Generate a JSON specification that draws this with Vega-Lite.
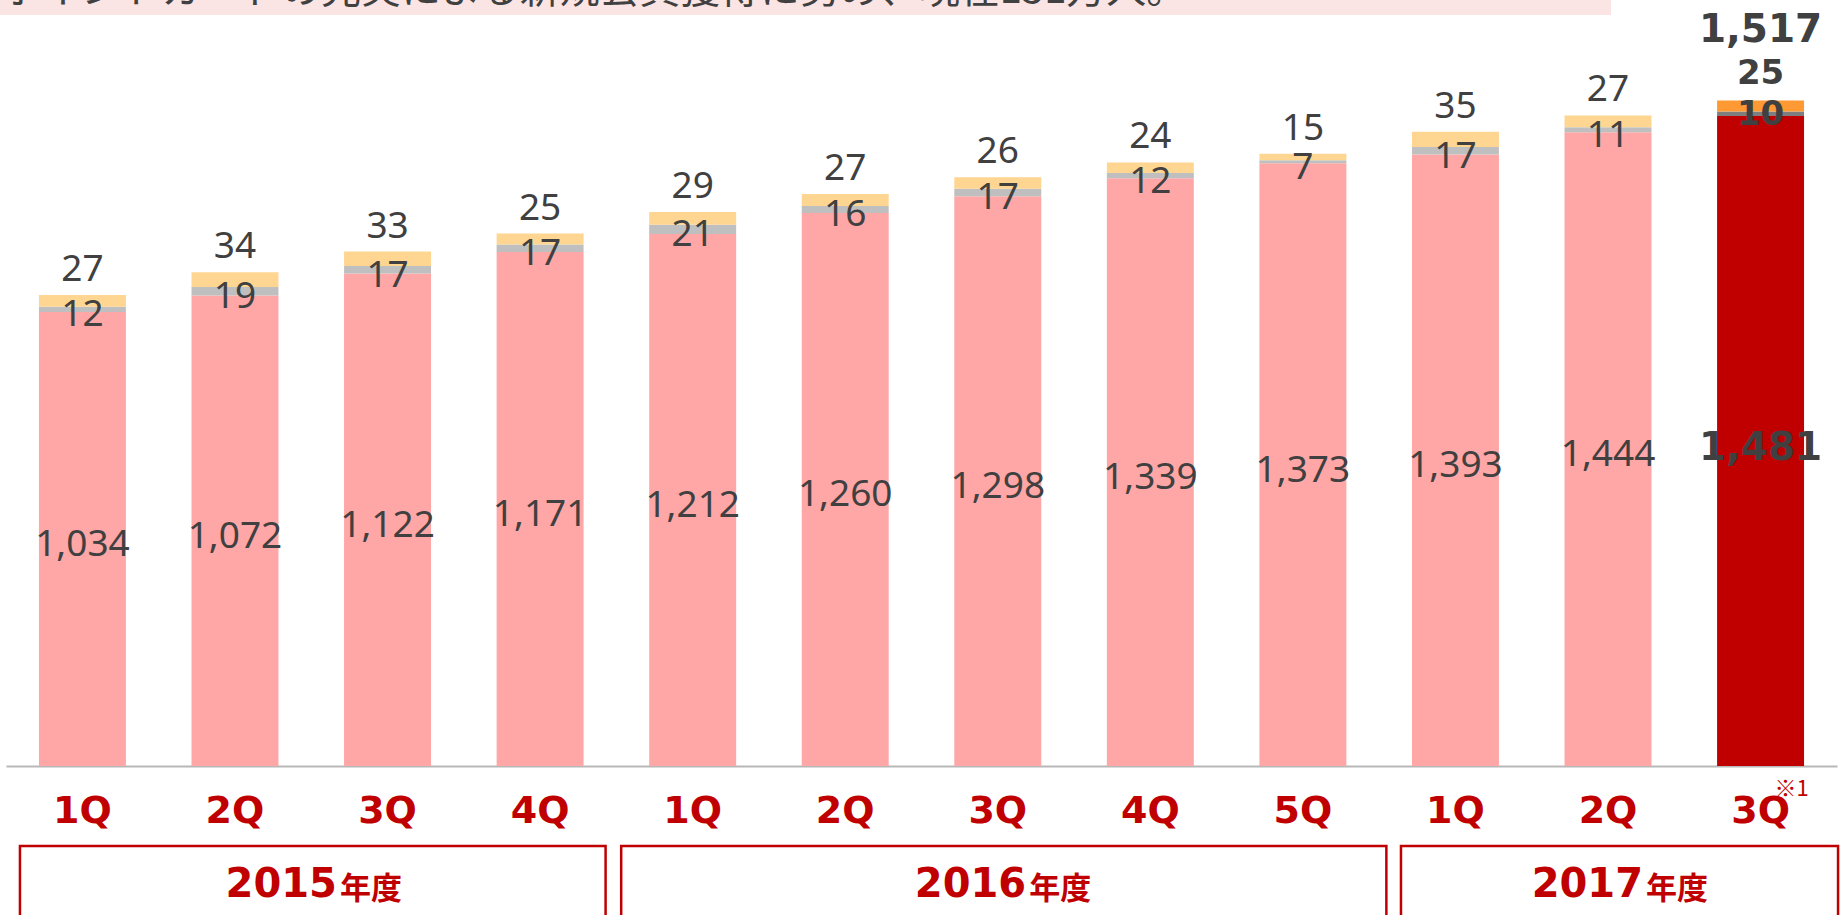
{
  "$schema": "https://vega.github.io/schema/vega-lite/v6.json",
  "width": 1831,
  "height": 766,
  "autosize": {"type": "none"},
  "padding": {"left": 6, "right": 5, "top": 0, "bottom": 149},
  "background": "white",
  "config": {
    "view": {"stroke": null},
    "axisX": {
      "labelExpr": "split(datum.value, '-')[1]",
      "labelFont": "DejaVu Sans", "labelFontWeight": "bold", "labelFontSize": 38, "labelColor": "#c00000",
      "labelAngle": 0, "labelBaseline": "alphabetic", "labelPadding": 56, "labelOverlap": false,
      "ticks": false, "tickSize": 0, "grid": false,
      "domain": true, "domainColor": "#b8b8b8", "domainWidth": 2, "title": null
    }
  },
  "resolve": {"scale": {"color": "independent"}},
  "datasets": {
    "bars": [
      {"q": "2015-1Q", "seg": "s1", "v": 1034}, {"q": "2015-1Q", "seg": "s2", "v": 12}, {"q": "2015-1Q", "seg": "s3", "v": 27},
      {"q": "2015-2Q", "seg": "s1", "v": 1072}, {"q": "2015-2Q", "seg": "s2", "v": 19}, {"q": "2015-2Q", "seg": "s3", "v": 34},
      {"q": "2015-3Q", "seg": "s1", "v": 1122}, {"q": "2015-3Q", "seg": "s2", "v": 17}, {"q": "2015-3Q", "seg": "s3", "v": 33},
      {"q": "2015-4Q", "seg": "s1", "v": 1171}, {"q": "2015-4Q", "seg": "s2", "v": 17}, {"q": "2015-4Q", "seg": "s3", "v": 25},
      {"q": "2016-1Q", "seg": "s1", "v": 1212}, {"q": "2016-1Q", "seg": "s2", "v": 21}, {"q": "2016-1Q", "seg": "s3", "v": 29},
      {"q": "2016-2Q", "seg": "s1", "v": 1260}, {"q": "2016-2Q", "seg": "s2", "v": 16}, {"q": "2016-2Q", "seg": "s3", "v": 27},
      {"q": "2016-3Q", "seg": "s1", "v": 1298}, {"q": "2016-3Q", "seg": "s2", "v": 17}, {"q": "2016-3Q", "seg": "s3", "v": 26},
      {"q": "2016-4Q", "seg": "s1", "v": 1339}, {"q": "2016-4Q", "seg": "s2", "v": 12}, {"q": "2016-4Q", "seg": "s3", "v": 24},
      {"q": "2016-5Q", "seg": "s1", "v": 1373}, {"q": "2016-5Q", "seg": "s2", "v": 7}, {"q": "2016-5Q", "seg": "s3", "v": 15},
      {"q": "2017-1Q", "seg": "s1", "v": 1393}, {"q": "2017-1Q", "seg": "s2", "v": 17}, {"q": "2017-1Q", "seg": "s3", "v": 35},
      {"q": "2017-2Q", "seg": "s1", "v": 1444}, {"q": "2017-2Q", "seg": "s2", "v": 11}, {"q": "2017-2Q", "seg": "s3", "v": 27},
      {"q": "2017-3Q", "seg": "s1", "v": 1481}, {"q": "2017-3Q", "seg": "s2", "v": 10}, {"q": "2017-3Q", "seg": "s3", "v": 25}
    ],
    "years": [
      {"year": "2015", "first": "2015-1Q", "last": "2015-4Q"},
      {"year": "2016", "first": "2016-1Q", "last": "2016-5Q"},
      {"year": "2017", "first": "2017-1Q", "last": "2017-3Q"}
    ],
    "totals": [{"q": "2017-3Q", "total": 1517}],
    "note": [{"note": "ポイントカードの充実による新規会員獲得に努め、現在151万人。", "mark": "※1"}]
  },
  "data": {"name": "bars"},
  "layer": [
    {
      "transform": [{"filter": "datum.q !== '2017-3Q'"}],
      "mark": {"type": "bar"},
      "encoding": {
        "x": {
          "field": "q", "type": "nominal", "title": null,
          "scale": {"domain": ["2015-1Q","2015-2Q","2015-3Q","2015-4Q","2016-1Q","2016-2Q","2016-3Q","2016-4Q","2016-5Q","2017-1Q","2017-2Q","2017-3Q"], "paddingInner": 0.43, "paddingOuter": 0.216}
        },
        "y": {"field": "v", "type": "quantitative", "stack": "zero", "scale": {"domain": [0, 1745], "nice": false, "zero": true}, "axis": null},
        "color": {"field": "seg", "type": "nominal", "scale": {"domain": ["s1","s2","s3"], "range": ["#ffa6a6","#bfbfbf","#ffd592"]}, "legend": null},
        "order": {"field": "seg", "type": "ordinal", "sort": "ascending"}
      }
    },
    {
      "transform": [{"filter": "datum.q === '2017-3Q'"}],
      "mark": {"type": "bar"},
      "encoding": {
        "x": {"field": "q", "type": "nominal", "title": null},
        "y": {"field": "v", "type": "quantitative", "stack": "zero", "axis": null},
        "color": {"field": "seg", "type": "nominal", "scale": {"domain": ["s1","s2","s3"], "range": ["#c00000","#7f7f7f","#ff9933"]}, "legend": null},
        "order": {"field": "seg", "type": "ordinal", "sort": "ascending"}
      }
    },
    {
      "transform": [{"filter": "datum.q !== '2017-3Q' && datum.seg !== 's3'"}],
      "mark": {"type": "text", "font": "Noto Sans", "fontSize": 37, "color": "#404040", "baseline": "middle", "dy": 6},
      "encoding": {
        "x": {"field": "q", "type": "nominal", "title": null},
        "y": {"field": "v", "type": "quantitative", "stack": "zero", "bandPosition": 0.5, "axis": null},
        "detail": {"field": "seg"},
        "order": {"field": "seg", "type": "ordinal", "sort": "ascending"},
        "text": {"field": "v", "type": "quantitative", "format": ","}
      }
    },
    {
      "transform": [{"filter": "datum.q !== '2017-3Q'"}],
      "mark": {"type": "text", "font": "Noto Sans", "fontSize": 37, "color": "#404040", "baseline": "alphabetic", "dy": -14},
      "encoding": {
        "x": {"field": "q", "type": "nominal", "title": null},
        "y": {"field": "v", "type": "quantitative", "stack": "zero", "axis": null},
        "detail": {"field": "seg"},
        "order": {"field": "seg", "type": "ordinal", "sort": "ascending"},
        "text": {"condition": {"test": "datum.seg === 's3'", "field": "v", "type": "quantitative", "format": ","}, "value": ""}
      }
    },
    {
      "transform": [{"filter": "datum.q === '2017-3Q' && datum.seg === 's1'"}],
      "mark": {"type": "text", "font": "DejaVu Sans", "fontWeight": "bold", "fontSize": 39, "color": "#404040", "baseline": "middle", "dy": 7},
      "encoding": {
        "x": {"field": "q", "type": "nominal", "title": null},
        "y": {"field": "v", "type": "quantitative", "stack": "zero", "bandPosition": 0.5, "axis": null},
        "detail": {"field": "seg"},
        "order": {"field": "seg", "type": "ordinal", "sort": "ascending"},
        "text": {"field": "v", "type": "quantitative", "format": ","}
      }
    },
    {
      "transform": [{"filter": "datum.q === '2017-3Q' && datum.seg !== 's3'"}],
      "mark": {"type": "text", "font": "DejaVu Sans", "fontWeight": "bold", "fontSize": 34, "color": "#404040", "baseline": "middle", "dy": 1},
      "encoding": {
        "x": {"field": "q", "type": "nominal", "title": null},
        "y": {"field": "v", "type": "quantitative", "stack": "zero", "bandPosition": 0.5, "axis": null},
        "detail": {"field": "seg"},
        "order": {"field": "seg", "type": "ordinal", "sort": "ascending"},
        "text": {"condition": {"test": "datum.seg === 's2'", "field": "v", "type": "quantitative", "format": ","}, "value": ""}
      }
    },
    {
      "transform": [{"filter": "datum.q === '2017-3Q'"}],
      "mark": {"type": "text", "font": "DejaVu Sans", "fontWeight": "bold", "fontSize": 34, "color": "#404040", "baseline": "alphabetic", "dy": -17},
      "encoding": {
        "x": {"field": "q", "type": "nominal", "title": null},
        "y": {"field": "v", "type": "quantitative", "stack": "zero", "axis": null},
        "detail": {"field": "seg"},
        "order": {"field": "seg", "type": "ordinal", "sort": "ascending"},
        "text": {"condition": {"test": "datum.seg === 's3'", "field": "v", "type": "quantitative", "format": ","}, "value": ""}
      }
    },
    {
      "data": {"name": "totals"},
      "mark": {"type": "text", "font": "DejaVu Sans", "fontWeight": "bold", "fontSize": 39, "color": "#404040", "baseline": "alphabetic", "dy": -58},
      "encoding": {
        "x": {"field": "q", "type": "nominal", "title": null},
        "y": {"field": "total", "type": "quantitative", "axis": null},
        "text": {"field": "total", "type": "quantitative", "format": ","}
      }
    },
    {
      "data": {"name": "note"},
      "mark": {"type": "rect", "fill": "#fbe4e4", "xOffset": -45, "x2Offset": 3},
      "encoding": {
        "x": {"datum": "2015-1Q", "bandPosition": 0, "title": null},
        "x2": {"datum": "2017-2Q", "bandPosition": 0.5},
        "y": {"datum": 1711, "axis": null},
        "y2": {"datum": 1800}
      }
    },
    {
      "data": {"name": "note"},
      "mark": {"type": "text", "font": "Noto Sans CJK JP", "fontSize": 40, "color": "#404040", "align": "left", "baseline": "alphabetic", "dx": -38},
      "encoding": {
        "x": {"datum": "2015-1Q", "bandPosition": 0, "title": null},
        "y": {"datum": 1738, "axis": null},
        "text": {"field": "note"}
      }
    },
    {
      "data": {"name": "note"},
      "mark": {"type": "text", "font": "Noto Sans CJK JP", "fontSize": 22, "color": "#c00000", "align": "left", "baseline": "alphabetic", "dx": 14},
      "encoding": {
        "x": {"datum": "2017-3Q", "bandPosition": 0.5, "title": null},
        "y": {"datum": -68, "axis": null},
        "text": {"field": "mark"}
      }
    },
    {
      "data": {"name": "years"},
      "transform": [{"filter": "datum.year === '2015'"}],
      "layer": [
        {
          "mark": {"type": "rect", "fill": "white", "fillOpacity": 0, "stroke": "#c00000", "strokeWidth": 2.5, "xOffset": -19, "x2Offset": 22},
          "encoding": {
            "x": {"field": "first", "type": "nominal", "bandPosition": 0, "title": null},
            "x2": {"field": "last", "bandPosition": 1},
            "y": {"datum": -182, "axis": null},
            "y2": {"datum": -500}
          }
        },
        {
          "mark": {"type": "text", "font": "DejaVu Sans", "fontWeight": "bold", "fontSize": 40, "color": "#c00000", "align": "right", "baseline": "alphabetic", "dx": 298},
          "encoding": {
            "x": {"field": "first", "type": "nominal", "bandPosition": 0, "title": null},
            "y": {"datum": -298.4, "axis": null},
            "text": {"field": "year"}
          }
        },
        {
          "mark": {"type": "text", "font": "Noto Sans CJK JP", "fontWeight": "bold", "fontSize": 31, "color": "#c00000", "align": "left", "baseline": "alphabetic", "dx": 301},
          "encoding": {
            "x": {"field": "first", "type": "nominal", "bandPosition": 0, "title": null},
            "y": {"datum": -303, "axis": null},
            "text": {"value": "年度"}
          }
        }
      ]
    },
    {
      "data": {"name": "years"},
      "transform": [{"filter": "datum.year === '2016'"}],
      "layer": [
        {
          "mark": {"type": "rect", "fill": "white", "fillOpacity": 0, "stroke": "#c00000", "strokeWidth": 2.5, "xOffset": -28, "x2Offset": 40},
          "encoding": {
            "x": {"field": "first", "type": "nominal", "bandPosition": 0, "title": null},
            "x2": {"field": "last", "bandPosition": 1},
            "y": {"datum": -182, "axis": null},
            "y2": {"datum": -500}
          }
        },
        {
          "mark": {"type": "text", "font": "DejaVu Sans", "fontWeight": "bold", "fontSize": 40, "color": "#c00000", "align": "right", "baseline": "alphabetic", "dx": 377},
          "encoding": {
            "x": {"field": "first", "type": "nominal", "bandPosition": 0, "title": null},
            "y": {"datum": -298.4, "axis": null},
            "text": {"field": "year"}
          }
        },
        {
          "mark": {"type": "text", "font": "Noto Sans CJK JP", "fontWeight": "bold", "fontSize": 31, "color": "#c00000", "align": "left", "baseline": "alphabetic", "dx": 380},
          "encoding": {
            "x": {"field": "first", "type": "nominal", "bandPosition": 0, "title": null},
            "y": {"datum": -303, "axis": null},
            "text": {"value": "年度"}
          }
        }
      ]
    },
    {
      "data": {"name": "years"},
      "transform": [{"filter": "datum.year === '2017'"}],
      "layer": [
        {
          "mark": {"type": "rect", "fill": "white", "fillOpacity": 0, "stroke": "#c00000", "strokeWidth": 2.5, "xOffset": -11, "x2Offset": 34},
          "encoding": {
            "x": {"field": "first", "type": "nominal", "bandPosition": 0, "title": null},
            "x2": {"field": "last", "bandPosition": 1},
            "y": {"datum": -182, "axis": null},
            "y2": {"datum": -500}
          }
        },
        {
          "mark": {"type": "text", "font": "DejaVu Sans", "fontWeight": "bold", "fontSize": 40, "color": "#c00000", "align": "right", "baseline": "alphabetic", "dx": 231},
          "encoding": {
            "x": {"field": "first", "type": "nominal", "bandPosition": 0, "title": null},
            "y": {"datum": -298.4, "axis": null},
            "text": {"field": "year"}
          }
        },
        {
          "mark": {"type": "text", "font": "Noto Sans CJK JP", "fontWeight": "bold", "fontSize": 31, "color": "#c00000", "align": "left", "baseline": "alphabetic", "dx": 234},
          "encoding": {
            "x": {"field": "first", "type": "nominal", "bandPosition": 0, "title": null},
            "y": {"datum": -303, "axis": null},
            "text": {"value": "年度"}
          }
        }
      ]
    }
  ]
}
